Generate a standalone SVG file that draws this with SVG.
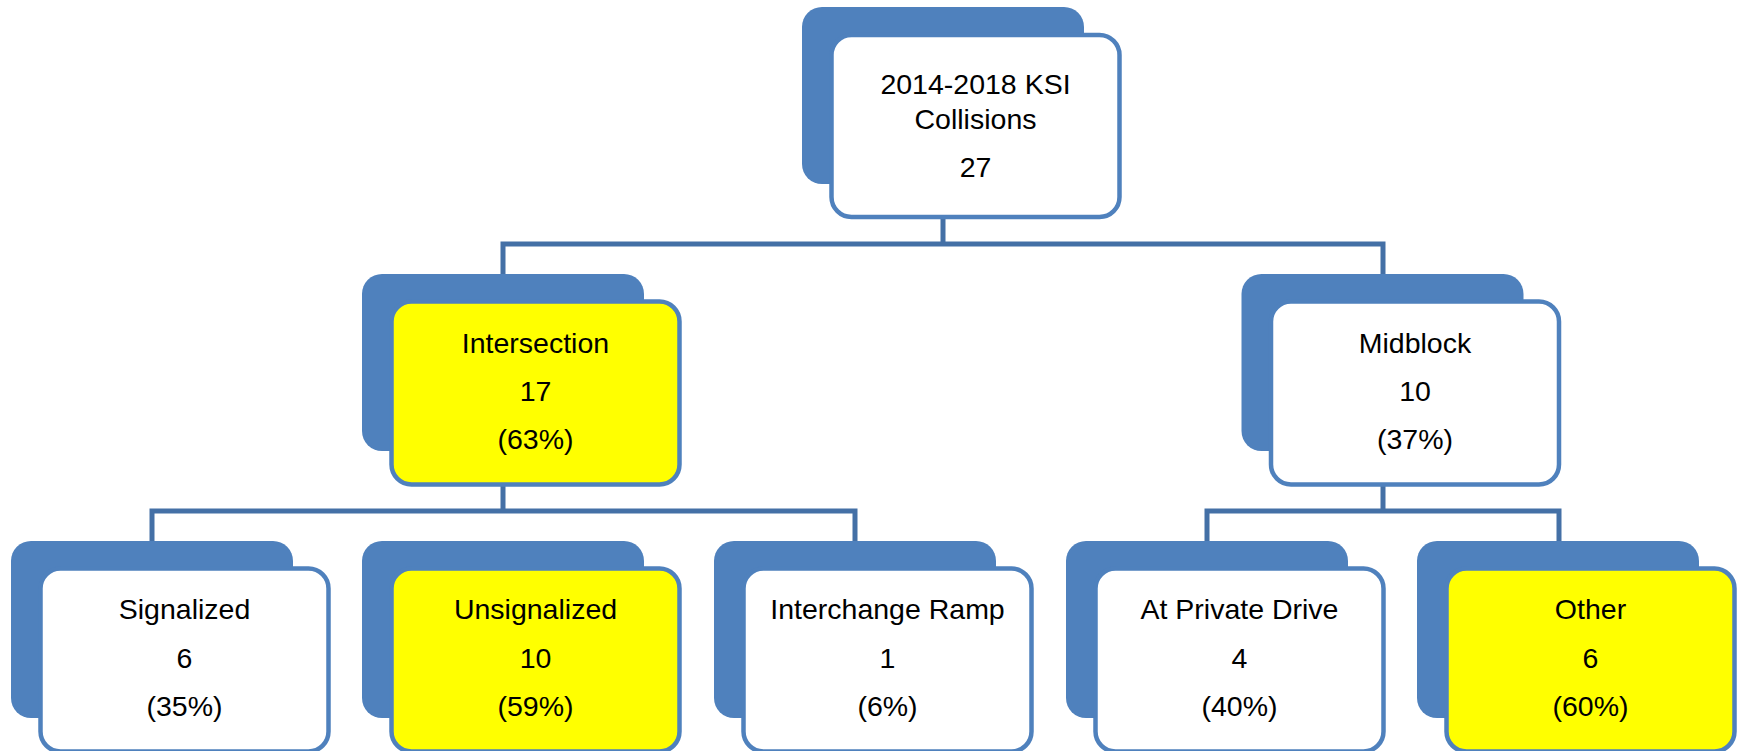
<svg xmlns="http://www.w3.org/2000/svg" width="1743" height="751" viewBox="0 0 1743 751">
<defs>
<style>
.back{fill:#4F81BD;}
.front{stroke:#4F81BD;stroke-width:4.5;}
.w{fill:#FFFFFF;}
.y{fill:#FFFF00;}
.conn{fill:none;stroke:#4470A6;stroke-width:5;stroke-linejoin:miter;}
text{font-family:"Liberation Sans",Arial,sans-serif;font-size:28.5px;fill:#000;text-anchor:middle;}
</style>
</defs>
<rect width="1743" height="751" fill="#FFFFFF"/>
<g id="connectors">
<path class="conn" d="M943 217 V244 M503 274 V244 H1383 V274"/>
<path class="conn" d="M503 485 V511 M152 541 V511 H855 V541"/>
<path class="conn" d="M1383 485 V511 M1207 541 V511 H1559 V541"/>
</g>
<g id="node-total">
<rect class="back" x="802" y="7" width="282" height="177" rx="20"/>
<rect class="front w" x="831.5" y="35" width="288" height="182" rx="20"/>
<text x="975.5" y="94">2014-2018 KSI</text>
<text x="975.5" y="129">Collisions</text>
<text x="975.5" y="177">27</text>
</g>
<g id="node-intersection">
<rect class="back" x="362" y="274" width="282" height="177" rx="20"/>
<rect class="front y" x="391.5" y="301.5" width="288" height="183" rx="20"/>
<text x="535.5" y="353">Intersection</text>
<text x="535.5" y="401">17</text>
<text x="535.5" y="449">(63%)</text>
</g>
<g id="node-midblock">
<rect class="back" x="1241.5" y="274" width="282" height="177" rx="20"/>
<rect class="front w" x="1271" y="301.5" width="288" height="183" rx="20"/>
<text x="1415" y="353">Midblock</text>
<text x="1415" y="401">10</text>
<text x="1415" y="449">(37%)</text>
</g>
<g id="node-signalized">
<rect class="back" x="11" y="541" width="282" height="177" rx="20"/>
<rect class="front w" x="40.5" y="568.5" width="288" height="183" rx="20"/>
<text x="184.5" y="619">Signalized</text>
<text x="184.5" y="668">6</text>
<text x="184.5" y="716">(35%)</text>
</g>
<g id="node-unsignalized">
<rect class="back" x="362" y="541" width="282" height="177" rx="20"/>
<rect class="front y" x="391.5" y="568.5" width="288" height="183" rx="20"/>
<text x="535.5" y="619">Unsignalized</text>
<text x="535.5" y="668">10</text>
<text x="535.5" y="716">(59%)</text>
</g>
<g id="node-ramp">
<rect class="back" x="714" y="541" width="282" height="177" rx="20"/>
<rect class="front w" x="743.5" y="568.5" width="288" height="183" rx="20"/>
<text x="887.5" y="619">Interchange Ramp</text>
<text x="887.5" y="668">1</text>
<text x="887.5" y="716">(6%)</text>
</g>
<g id="node-private-drive">
<rect class="back" x="1066" y="541" width="282" height="177" rx="20"/>
<rect class="front w" x="1095.5" y="568.5" width="288" height="183" rx="20"/>
<text x="1239.5" y="619">At Private Drive</text>
<text x="1239.5" y="668">4</text>
<text x="1239.5" y="716">(40%)</text>
</g>
<g id="node-other">
<rect class="back" x="1417" y="541" width="282" height="177" rx="20"/>
<rect class="front y" x="1446.5" y="568.5" width="288" height="183" rx="20"/>
<text x="1590.5" y="619">Other</text>
<text x="1590.5" y="668">6</text>
<text x="1590.5" y="716">(60%)</text>
</g>
</svg>
